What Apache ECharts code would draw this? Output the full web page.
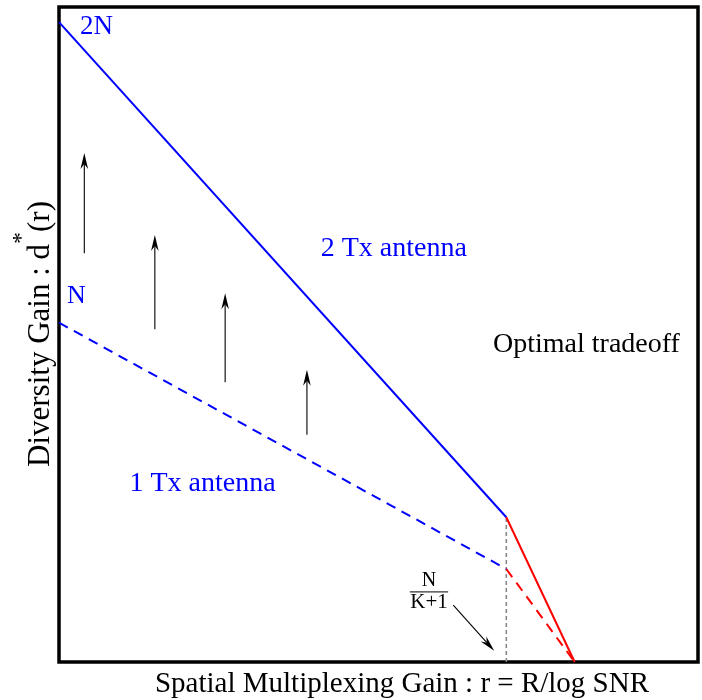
<!DOCTYPE html>
<html>
<head>
<meta charset="utf-8">
<script src="https://cdn.jsdelivr.net/npm/echarts@6/dist/echarts.min.js"></script>
<style>html,body{margin:0;padding:0;background:#fff}#c{width:702px;height:700px}</style>
</head>
<body>
<div id="c"></div>
<script>
// ---- data (r on x in [0,1], d on y in [0,1], arbitrary units) ----
const twoTx      = [[0, 0.977], [0.70, 0.221]];
const twoTxOpt   = [[0.70, 0.221], [0.807, 0]];
const oneTx      = [[0, 0.518], [0.70, 0.142]];
const oneTxOpt   = [[0.70, 0.142], [0.807, 0]];
const guide      = [[0.70, 0], [0.70, 0.221]];
const gainArrows = [
  [0.0396, 0.624, 0.0396, 0.777],
  [0.150, 0.508, 0.150, 0.652],
  [0.260, 0.427, 0.260, 0.563],
  [0.388, 0.347, 0.388, 0.446]
];
const pointerArrow = [[0.617, 0.087, 0.681, 0.017]];
const fracBar    = [[0.549, 0.107], [0.609, 0.107]];
const labelNames = ['2N', 'N', '2 Tx antenna', 'Optimal tradeoff', '1 Tx antenna', 'N', 'K+1'];
const labelPos   = [[0.033, 0.969], [0.0125, 0.559], [0.524, 0.631], [0.8255, 0.484], [0.2246, 0.2725], [0.579, 0.124], [0.579, 0.0916]];
const xTitle = 'Spatial Multiplexing Gain : r = R/log SNR';
const yTitle = ['Diversity Gain : d', '*', '(r)'];

const FONT = 'Liberation Serif';
const BLUE = '#0000ff', RED = '#ff0000';

const labelStyles = [
  {color: BLUE, fontSize: 27, position: 'right', distance: 0},
  {color: BLUE, fontSize: 26, position: 'right', distance: 0},
  {color: BLUE, fontSize: 28, position: 'inside'},
  {color: '#000', fontSize: 28, position: 'inside'},
  {color: BLUE, fontSize: 28, position: 'inside'},
  {color: '#000', fontSize: 20, position: 'inside'},
  {color: '#000', fontSize: 21, position: 'inside'}
];
const labelData = labelNames.map((n, i) => ({
  name: n, value: labelPos[i],
  label: Object.assign({show: true, formatter: '{b}', fontFamily: FONT, opacity: 1}, labelStyles[i])
}));

function arrowRender(params, api) {
  const p0 = api.coord([api.value(0), api.value(1)]);
  const p1 = api.coord([api.value(2), api.value(3)]);
  const dx = p1[0] - p0[0], dy = p1[1] - p0[1];
  const len = Math.hypot(dx, dy), ux = dx / len, uy = dy / len;
  const nx = -uy, ny = ux;
  const hl = 16, hw = 3.8, notch = 5;
  const bx = p1[0] - ux * hl, by = p1[1] - uy * hl;
  const mx = p1[0] - ux * (hl - notch), my = p1[1] - uy * (hl - notch);
  return {
    type: 'group',
    children: [
      {type: 'line', shape: {x1: p0[0], y1: p0[1], x2: mx, y2: my}, style: {stroke: '#000', lineWidth: 1.1}},
      {type: 'polygon', shape: {points: [p1, [bx + nx * hw, by + ny * hw], [mx, my], [bx - nx * hw, by - ny * hw]]}, style: {fill: '#000'}}
    ]
  };
}

const chart = echarts.init(document.getElementById('c'), null, {renderer: 'canvas'});
const lineBase = {type: 'line', showSymbol: false, symbol: 'none', silent: true, animation: false};
chart.setOption({
  animation: false,
  backgroundColor: '#fff',
  grid: {left: 59, right: 4, top: 7, bottom: 38, show: true, borderColor: '#000', borderWidth: 3.5},
  xAxis: {type: 'value', min: 0, max: 1, show: true, axisLine: {show: false}, axisTick: {show: false}, axisLabel: {show: false}, splitLine: {show: false}},
  yAxis: {type: 'value', min: 0, max: 1, show: true, axisLine: {show: false}, axisTick: {show: false}, axisLabel: {show: false}, splitLine: {show: false}},
  series: [
    Object.assign({}, lineBase, {data: guide, lineStyle: {color: '#888', width: 1.6, type: [4, 3]}}),
    Object.assign({}, lineBase, {data: twoTx, lineStyle: {color: BLUE, width: 2}}),
    Object.assign({}, lineBase, {data: twoTxOpt, lineStyle: {color: RED, width: 2}}),
    Object.assign({}, lineBase, {data: oneTx, lineStyle: {color: BLUE, width: 2, type: [10, 7]}}),
    Object.assign({}, lineBase, {data: oneTxOpt, lineStyle: {color: RED, width: 2, type: [10, 7]}}),
    Object.assign({}, lineBase, {data: fracBar, lineStyle: {color: '#000', width: 1}}),
    {type: 'custom', renderItem: arrowRender, data: gainArrows, silent: true},
    {type: 'custom', renderItem: arrowRender, data: pointerArrow, silent: true},
    {type: 'scatter', symbolSize: 0, silent: true, itemStyle: {opacity: 1}, data: labelData}
  ],
  graphic: [
    {type: 'text', x: 402, y: 684, style: {text: xTitle, font: '29px "' + FONT + '"', fill: '#000', align: 'center', verticalAlign: 'middle'}},
    {type: 'text', x: 33, y: 334, rotation: Math.PI / 2, style: {
      text: '{a|' + yTitle[0] + '}{s|' + yTitle[1] + '}{a|' + yTitle[2] + '}',
      align: 'center', verticalAlign: 'middle',
      rich: {
        a: {fontFamily: FONT, fontSize: 31, fill: '#000', lineHeight: 36, verticalAlign: 'bottom'},
        s: {fontFamily: FONT, fontSize: 24, fill: '#000', lineHeight: 46, verticalAlign: 'top'}
      }
    }}
  ]
});
</script>
</body>
</html>
